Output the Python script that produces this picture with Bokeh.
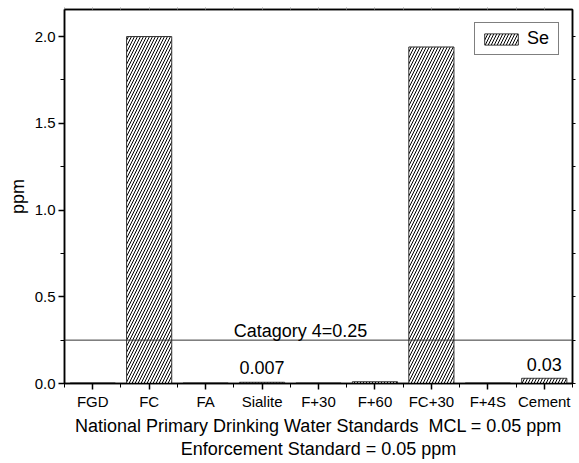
from bokeh.plotting import figure
from bokeh.models import (LinearAxis, FixedTicker, Span, Label, Legend, LegendItem,
                          ColumnDataSource, Range1d, NumeralTickFormatter,
                          CustomLabelingPolicy)
from bokeh.embed import file_html
from bokeh.resources import INLINE

categories = ["FGD", "FC", "FA", "Sialite", "F+30", "F+60", "FC+30", "F+4S", "Cement"]
se_values = [0.003, 2.0, 0.003, 0.007, 0.003, 0.01, 1.94, 0.003, 0.03]
y_ticks = [0.0, 0.5, 1.0, 1.5, 2.0]
y_minor = [0.25, 0.75, 1.25, 1.75]
category_line = 0.25
annotations = [("Catagory 4=0.25", 4.68, 0.305), ("0.007", 4, 0.09), ("0.03", 9, 0.11)]
xlabel = ("National Primary Drinking Water Standards\u00a0\u00a0MCL = 0.05 ppm\n"
          "Enforcement Standard = 0.05 ppm")

FONT = "Liberation Sans"
xs = list(range(1, len(categories) + 1))

p = figure(width=579, height=463, output_backend="svg", toolbar_location=None,
           x_range=Range1d(0.5, len(categories) + 0.5), y_range=Range1d(0, 2.156),
           min_border_left=64, min_border_right=0, min_border_top=9, min_border_bottom=80)
p.xgrid.visible = False
p.ygrid.visible = False
p.outline_line_color = "black"
p.outline_line_width = 1.5

src = ColumnDataSource(dict(x=xs, top=se_values))
r = p.vbar(x="x", top="top", width=0.8, source=src, fill_color="white",
           line_color="#333333", line_width=1, hatch_pattern="/", hatch_scale=6,
           hatch_weight=1, hatch_color="black")

no_labels = CustomLabelingPolicy(code="""
const all = [...indices]
for (const i of all) indices.unset(i)
return indices
""")

# bottom axis
xa = p.xaxis[0]
xa.ticker = FixedTicker(ticks=xs, minor_ticks=[x - 0.5 for x in xs] + [len(xs) + 0.5])
xa.major_label_overrides = {x: c for x, c in zip(xs, categories)}
xa.major_label_text_font = FONT
xa.major_label_text_font_size = "15px"
xa.major_label_text_color = "black"
xa.major_tick_in = 0
xa.major_tick_out = 6
xa.minor_tick_in = 0
xa.minor_tick_out = 4
xa.axis_line_width = 1.5
xa.major_tick_line_width = 1.5
xa.axis_label = xlabel
xa.axis_label_text_font = FONT
xa.axis_label_text_font_size = "18px"
xa.axis_label_text_font_style = "normal"
xa.axis_label_text_color = "black"
xa.axis_label_text_line_height = 1.15
xa.axis_label_standoff = 3
xa.major_label_standoff = 3

# left axis
ya = p.yaxis[0]
ya.ticker = FixedTicker(ticks=y_ticks, minor_ticks=y_minor)
ya.formatter = NumeralTickFormatter(format="0.0")
ya.major_label_text_font = FONT
ya.major_label_text_font_size = "15px"
ya.major_label_text_color = "black"
ya.major_tick_in = 0
ya.major_tick_out = 6
ya.minor_tick_in = 0
ya.minor_tick_out = 4
ya.axis_line_width = 1.5
ya.major_tick_line_width = 1.5
ya.axis_label = "ppm"
ya.axis_label_text_font = FONT
ya.axis_label_text_font_size = "18px"
ya.axis_label_text_font_style = "normal"
ya.axis_label_text_color = "black"
ya.axis_label_standoff = 4
ya.major_label_standoff = 3

# right axis (ticks only)
ra = LinearAxis(ticker=FixedTicker(ticks=y_ticks, minor_ticks=y_minor),
                major_label_policy=no_labels, major_label_text_font_size="1px",
                major_tick_in=0, major_tick_out=3, minor_tick_in=0, minor_tick_out=3,
                major_label_standoff=0, axis_label_standoff=0, axis_line_width=1.5)
p.add_layout(ra, "right")

# top axis (ticks only)
ta = LinearAxis(ticker=FixedTicker(ticks=xs, minor_ticks=[x - 0.5 for x in xs]),
                major_label_policy=no_labels, major_label_text_font_size="1px",
                major_tick_in=0, major_tick_out=2, minor_tick_in=0, minor_tick_out=2,
                major_label_standoff=0, axis_label_standoff=0,
                axis_line_width=1.5, major_tick_line_color="#999999",
                minor_tick_line_color="#999999")
p.add_layout(ta, "above")

p.add_layout(Span(location=category_line, dimension="width", line_color="#333333", line_width=1))

for txt, x, y in annotations:
    p.add_layout(Label(x=x, y=y, text=txt, text_font=FONT, text_font_size="18px",
                       text_align="center", text_baseline="alphabetic", text_color="black"))

legend = Legend(items=[LegendItem(label="Se", renderers=[r])], location="top_right",
                label_text_font=FONT, label_text_font_size="18px", glyph_width=42,
                glyph_height=14, padding=5, margin=13, label_standoff=5,
                border_line_color="black", border_line_width=1, spacing=0,
                label_height=14, label_width=26, label_text_color="black")
p.add_layout(legend)

open("out.html", "w").write(file_html(p, INLINE))
